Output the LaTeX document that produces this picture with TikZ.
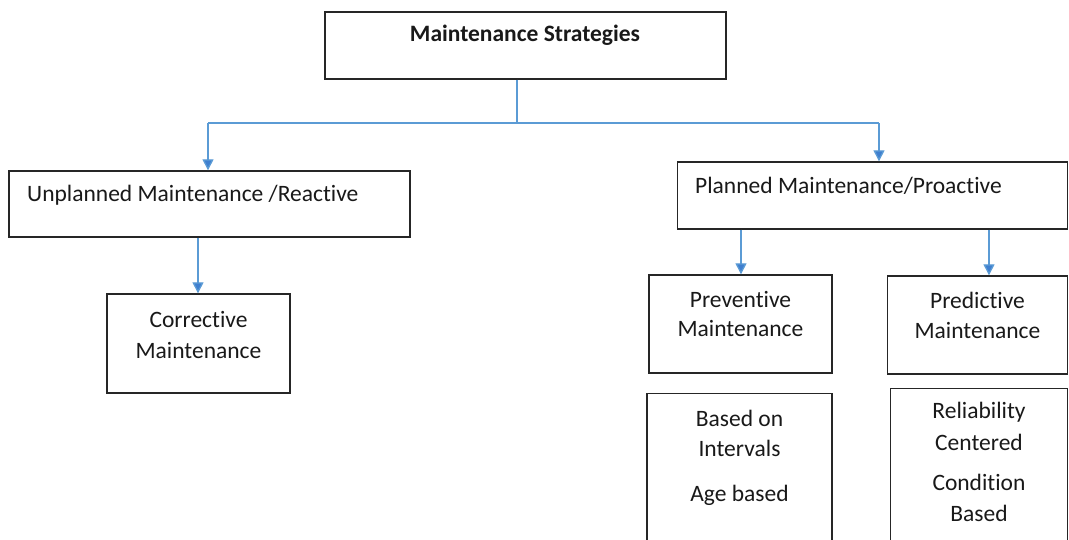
\documentclass[tikz,border=0pt]{standalone}
\usepackage{fontspec}
\setmainfont{Carlito}[Ligatures={NoCommon}]
\usetikzlibrary{arrows.meta}
\definecolor{linkblue}{HTML}{5B9BD5}
\definecolor{tipblue}{HTML}{3F7FCF}
\definecolor{boxline}{HTML}{262626}
\tikzset{
  box/.style={draw=boxline, line width=1.4pt, rectangle, inner sep=0pt},
  txt/.style={font=\fontsize{23.5}{28}\selectfont, inner sep=0pt, text=black!90},
  link/.style={draw=linkblue, line width=1.3pt},
  arrowlink/.style={link, -{Triangle[width=11pt,length=11pt,fill=tipblue]}},
}
\begin{document}
\begin{tikzpicture}[x=1pt,y=-1pt]
\useasboundingbox (0,0) rectangle (1069,539);
\clip (0,0) rectangle (1069,539);
\fill[white] (0,0) rectangle (1069,539);
% boxes
\node[box, minimum width=401pt, minimum height=67pt] (top) at (525.5,45.5) {};
\node[box, minimum width=401pt, minimum height=66pt] (unpl) at (209.5,204) {};
\node[box, minimum width=390pt, minimum height=67pt] (plan) at (872.3,195.5) {};
\node[box, minimum width=183pt, minimum height=99pt] (corr) at (198.5,343.5) {};
\node[box, minimum width=183pt, minimum height=98pt] (prev) at (740.5,324) {};
\node[box, minimum width=180pt, minimum height=98pt] (pred) at (977.3,325) {};
\node[box, minimum width=185pt, minimum height=200pt, anchor=north] (inter) at (739.5,393) {};
\node[box, minimum width=177pt, minimum height=200pt, anchor=north] (rel) at (978.9,388) {};
% texts
\node[txt, font=\fontsize{23.5}{28}\selectfont\bfseries] (ttop) at (525,35) {Maintenance Strategies};
\node[txt, anchor=west] (tunpl) at (27,195) {Unplanned Maintenance /Reactive};
\node[txt, anchor=west] (tplan) at (695,186) {Planned Maintenance/Proactive};
\node[txt] (tcorr1) at (198.5,319) {Corrective};
\node[txt] (tcorr2) at (198.5,350) {Maintenance};
\node[txt] (tprev1) at (740.5,299) {Preventive};
\node[txt] (tprev2) at (740.5,328) {Maintenance};
\node[txt] (tpred1) at (977.5,300) {Predictive};
\node[txt] (tpred2) at (977.5,330) {Maintenance};
\node[txt] (tint1) at (739.5,418) {Based on};
\node[txt] (tint2) at (739.5,448) {Intervals};
\node[txt] (tint3) at (739.5,495) {Age based};
\node[txt] (trel1) at (979,412) {Reliability};
\node[txt] (trel2) at (979,442) {Centered};
\node[txt] (trel3) at (979,482) {Condition};
\node[txt] (trel4) at (979,513) {Based};
% connectors
\coordinate (junc) at (517,123);
\coordinate (lft) at (208,123);
\coordinate (rgt) at (879,123);
\draw[link] (top.south -| junc) -- (junc);
\draw[link] (lft) -- (rgt);
\draw[arrowlink] (lft) -- (lft |- unpl.north);
\draw[arrowlink] (rgt) -- (rgt |- plan.north);
\draw[arrowlink] (unpl.south -| 198,0) -- (corr.north -| 198,0);
\draw[arrowlink] (plan.south -| 741,0) -- (prev.north -| 741,0);
\draw[arrowlink] (plan.south -| 989,0) -- (pred.north -| 989,0);
\end{tikzpicture}
\end{document}
